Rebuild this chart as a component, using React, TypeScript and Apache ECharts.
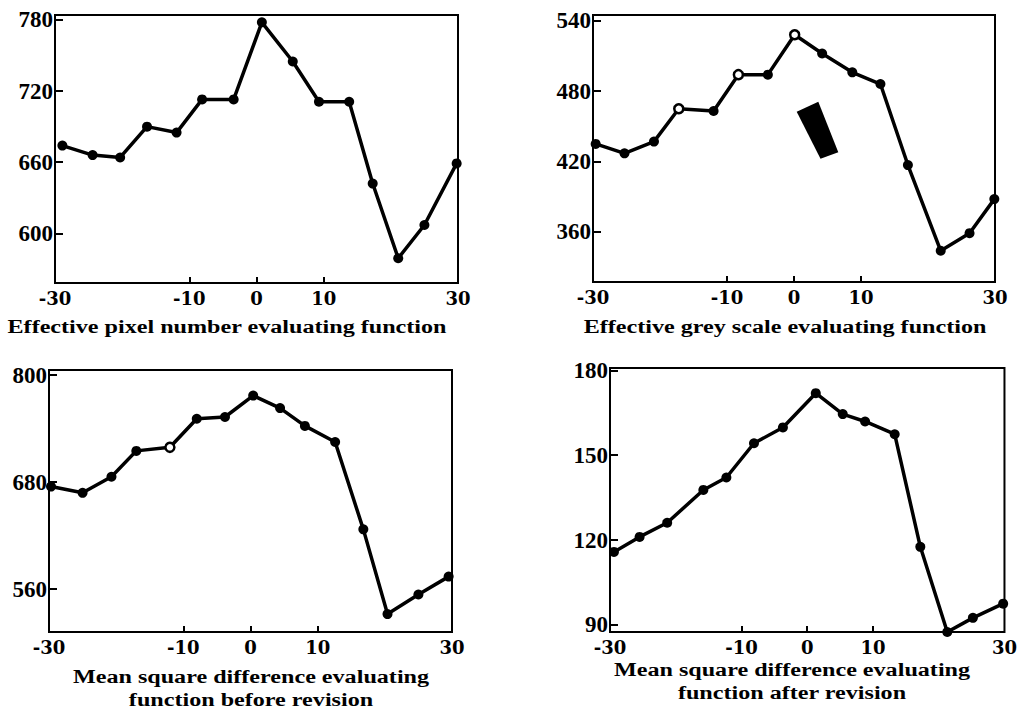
import React, { useEffect, useRef } from "react";
import * as echarts from "echarts";

// ---- Data ----
const xTickLabels = [-30, -10, 0, 10, 30];
const xTickMarks = [-10, 0, 10];

// Panel 1: Effective pixel number evaluating function
const xPixel = [-28.9, -24.4, -20.3, -16.3, -11.9, -8.1, -3.4, 0.8, 5.4, 9.3, 13.8, 17.3, 21.1, 25.0, 29.8];
const pixelValues = [674, 666, 664, 690, 685, 713, 713, 778, 745, 711, 711, 642, 579, 607, 659];
const pixelTicks = [600, 660, 720, 780];
const pixelHollow: number[] = [];

// Panel 2: Effective grey scale evaluating function
const xGrey = [-29.6, -25.3, -20.9, -17.2, -12.0, -8.3, -3.9, 0.1, 4.2, 8.7, 12.9, 17.0, 21.9, 26.2, 29.9];
const greyValues = [435, 427, 437, 465, 463, 494, 494, 528, 512, 496, 486, 417, 344, 359, 388];
const greyTicks = [360, 420, 480, 540];
const greyHollow = [3, 5, 7];

// Panel 3: Mean square difference evaluating function before revision
const xMsdBefore = [-29.7, -25.0, -20.7, -17.0, -12.0, -8.0, -3.8, 0.4, 4.4, 8.1, 12.6, 16.8, 20.4, 25.0, 29.5];
const msdBeforeValues = [675, 668, 686, 715, 719, 751, 753, 777, 763, 743, 725, 627, 532, 554, 574];
const msdBeforeTicks = [560, 680, 800];
const msdBeforeHollow = [4];

// Panel 4: Mean square difference evaluating function after revision
const xMsdAfter = [-29.4, -25.5, -21.3, -15.8, -12.3, -8.1, -3.7, 1.3, 5.4, 8.8, 13.3, 17.2, 21.3, 25.2, 29.8];
const msdAfterValues = [115.8, 121.1, 126.1, 137.7, 142.1, 154.2, 159.8, 171.9, 164.5, 161.9, 157.4, 117.6, 87.5, 92.5, 97.5];
const msdAfterTicks = [90, 120, 150, 180];
const msdAfterHollow: number[] = [];

const captions = [
  ["Effective pixel number evaluating function"],
  ["Effective grey scale evaluating function"],
  ["Mean square difference evaluating", "function before revision"],
  ["Mean square difference evaluating", "function after revision"],
];

// ---- Layout ----
const SERIF = "'Liberation Serif', 'Times New Roman', serif";
const WIDE_SERIF = "'DejaVu Serif', serif";
const panels = [
  { grid: { left: 55, top: 15, width: 403, height: 268 }, yMin: 558.1, yMax: 784.2, xs: xPixel, ys: pixelValues, ticks: pixelTicks, hollow: pixelHollow, cap: { x: 227, y: 327 } },
  { grid: { left: 593, top: 15, width: 402, height: 267 }, yMin: 317.4, yMax: 544.8, xs: xGrey, ys: greyValues, ticks: greyTicks, hollow: greyHollow, cap: { x: 785, y: 327 } },
  { grid: { left: 49, top: 370, width: 403, height: 262 }, yMin: 511.9, yMax: 805.7, xs: xMsdBefore, ys: msdBeforeValues, ticks: msdBeforeTicks, hollow: msdBeforeHollow, cap: { x: 251, y: 677 } },
  { grid: { left: 610, top: 368, width: 403, height: 264 }, yMin: 87.5, yMax: 180.8, xs: xMsdAfter, ys: msdAfterValues, ticks: msdAfterTicks, hollow: msdAfterHollow, cap: { x: 792, y: 670 } },
];

export default function App() {
  const ref = useRef<HTMLDivElement>(null);
  useEffect(() => {
    if (!ref.current) return;
    const chart = echarts.init(ref.current, undefined, { renderer: "svg" });

    const grids = panels.map((p) => ({
      ...p.grid,
      show: true,
      borderColor: "#000",
      borderWidth: 2,
      backgroundColor: "transparent",
      containLabel: false,
    }));

    const xAxes = panels.map((_, i) => ({
      type: "value",
      gridIndex: i,
      min: -30,
      max: 30,
      splitLine: { show: false },
      axisLine: { show: false, onZero: false },
      axisTick: { show: true, inside: true, length: 6, customValues: xTickMarks, lineStyle: { color: "#000", width: 2 } },
      axisLabel: {
        show: true,
        customValues: xTickLabels,
        color: "#000",
        fontFamily: WIDE_SERIF,
        fontSize: 18,
        fontWeight: "bold",
        margin: 6,
        formatter: (v: number) => String(v),
      },
    }));

    const yAxes = panels.map((p, i) => ({
      type: "value",
      gridIndex: i,
      min: p.yMin,
      max: p.yMax,
      splitLine: { show: false },
      axisLine: { show: false, onZero: false },
      axisTick: { show: true, inside: true, length: 8, customValues: p.ticks, lineStyle: { color: "#000", width: 2 } },
      axisLabel: {
        show: true,
        customValues: p.ticks,
        color: "#000",
        fontFamily: SERIF,
        fontSize: 23,
        fontWeight: "bold",
        margin: 2,
        formatter: (v: number) => String(v),
      },
    }));

    const series = panels.map((p, i) => ({
      type: "line",
      xAxisIndex: i,
      yAxisIndex: i,
      symbol: "circle",
      symbolSize: 10,
      showSymbol: true,
      lineStyle: { color: "#000", width: 3.5 },
      itemStyle: { color: "#000" },
      data: p.xs.map((x, k) =>
        p.hollow.includes(k)
          ? { value: [x, p.ys[k]], symbolSize: 9, itemStyle: { color: "#fff", borderColor: "#000", borderWidth: 2.5 } }
          : { value: [x, p.ys[k]] }
      ),
      z: 3,
    }));

    const graphic: any[] = [];
    panels.forEach((p, i) => {
      const lines = captions[i];
      lines.forEach((t, j) => {
        graphic.push({
          type: "text",
          x: p.cap.x,
          y: p.cap.y + j * 23,
          scaleX: 1.27,
          style: {
            text: t,
            fill: "#000",
            font: `bold 19px ${SERIF}`,
            align: "center",
            verticalAlign: "middle",
          },
        });
      });
    });
    // black blot in the grey-scale panel
    graphic.push({
      type: "polygon",
      shape: { points: [[796.7, 111.7], [818.3, 101.7], [838.3, 152.3], [820.5, 158.8]] },
      style: { fill: "#000" },
    });

    chart.setOption({
      animation: false,
      backgroundColor: "#fff",
      grid: grids,
      xAxis: xAxes,
      yAxis: yAxes,
      series,
      graphic,
    } as any);
    return () => chart.dispose();
  }, []);
  return (
    <div
      ref={ref}
      style={{ position: "fixed", left: 0, top: 0, width: 1020, height: 711, background: "#fff" }}
    />
  );
}
